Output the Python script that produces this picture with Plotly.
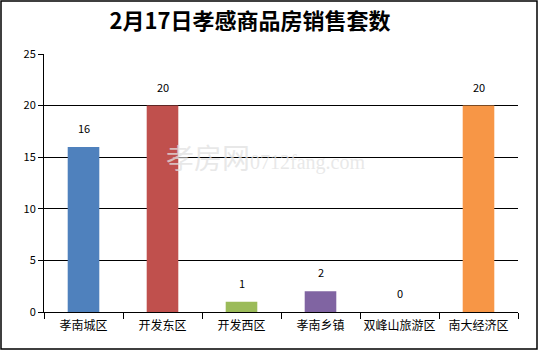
import plotly.graph_objects as go

categories = ["孝南城区", "开发东区", "开发西区", "孝南乡镇", "双峰山旅游区", "南大经济区"]
values = [16, 20, 1, 2, 0, 20]
colors = ["#4F81BD", "#C0504D", "#9BBB59", "#8064A2", "#4BACC6", "#F79646"]
title = "2月17日孝感商品房销售套数"
y_ticks = [0, 5, 10, 15, 20, 25]

W, H = 538, 350
ml, mr, mt, mb = 44, 20, 54, 38
pw, ph = W - ml - mr, H - mt - mb

fig = go.Figure(go.Bar(
    x=categories, y=values, marker=dict(color=colors, line=dict(width=0)),
    width=0.4,
))

value_labels = [dict(x=c, y=v, xref="x", yref="y", text=str(v), showarrow=False,
                     yanchor="bottom", yshift=9,
                     font=dict(size=11, color="#000000", family="Noto Sans CJK SC"))
                for c, v in zip(categories, values)]

fig.update_layout(
    width=W, height=H,
    margin=dict(l=ml, r=mr, t=mt, b=mb, autoexpand=False),
    paper_bgcolor="white", plot_bgcolor="white",
    showlegend=False,
    font=dict(family="Noto Sans CJK SC", size=12, color="#000000"),
    title=dict(text="<b>" + title + "</b>", x=250 / W, xanchor="center",
               y=1 - 21 / H, yanchor="middle",
               font=dict(size=22, family="Noto Sans CJK SC", color="#000000")),
    xaxis=dict(showline=True, linecolor="#000000", linewidth=1,
               ticks="outside", tickson="boundaries", ticklen=6, tickcolor="#000000",
               tickfont=dict(size=12), tickangle=0, showgrid=False, automargin=False,
               ticklabelstandoff=3),
    yaxis=dict(range=[0, 25], tickvals=y_ticks, showline=True, linecolor="#000000",
               linewidth=1, ticks="outside", ticklen=5, tickcolor="#000000",
               showgrid=True, gridcolor="#000000", gridwidth=1,
               tickfont=dict(size=11), zeroline=False, automargin=False),
    shapes=[dict(type="rect", xref="paper", yref="paper",
                 x0=(-ml + 1) / pw, x1=(pw + mr - 1) / pw,
                 y0=(-mb + 1) / ph, y1=(ph + mt - 1) / ph,
                 line=dict(color="#000000", width=1.5), layer="above")],
    annotations=value_labels + [dict(text="孝房网<span style='font-size:20px;font-family:serif'>0712fang.com</span>",
                      xref="paper", yref="paper", x=(265 - ml) / pw, y=(H - mb - 157) / ph,
                      xanchor="center", yanchor="middle", showarrow=False,
                      font=dict(size=28, color="rgba(225,225,225,0.75)", family="Noto Sans CJK SC"))],
)

fig.write_html("out.html")
